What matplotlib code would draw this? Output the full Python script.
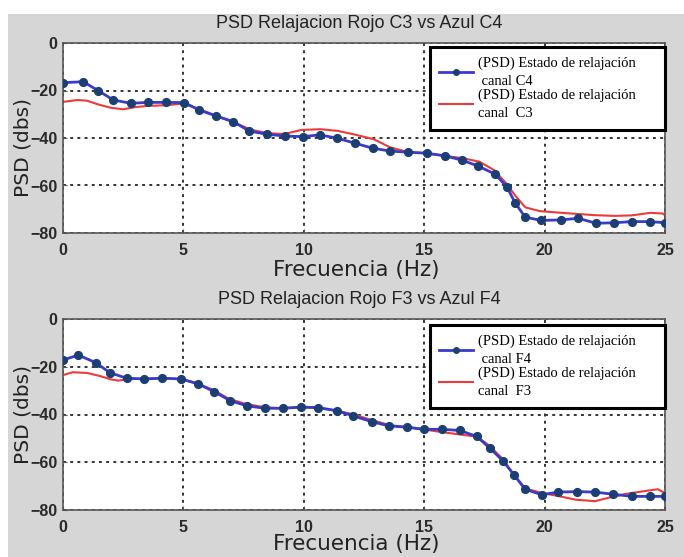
import matplotlib
matplotlib.use("Agg")
import matplotlib.pyplot as plt
from matplotlib.patches import Rectangle

# ---- data: power spectral density (dB) vs frequency (Hz) ----
freq_c4 = [0.0, 0.84, 1.47, 2.09, 2.82, 3.54, 4.28, 5.04, 5.65, 6.35, 7.07, 7.74,
           8.46, 9.22, 9.95, 10.67, 11.39, 12.13, 12.86, 13.58, 14.33, 15.10, 15.86,
           16.56, 17.24, 17.94, 18.43, 18.77, 19.19, 19.85, 20.67, 21.40, 22.13,
           22.88, 23.62, 24.38, 25.0]
psd_c4 = [-16.7, -16.3, -20.1, -24.0, -25.4, -25.0, -25.0, -25.1, -28.2, -30.7,
          -33.1, -37.1, -38.4, -39.2, -39.4, -38.7, -40.1, -42.2, -44.3, -45.5,
          -46.0, -46.4, -47.5, -49.3, -51.8, -55.2, -60.5, -67.2, -73.3, -74.7,
          -74.5, -73.8, -75.9, -75.7, -75.2, -75.2, -75.7]

freq_c3 = [0.0, 0.6, 1.0, 1.5, 2.0, 2.5, 3.0, 3.5, 4.3, 5.0, 5.7, 6.4, 7.1, 7.8,
           8.5, 9.2, 9.9, 10.7, 11.4, 12.1, 12.9, 13.6, 14.3, 15.1, 15.9, 16.6,
           17.3, 17.9, 18.4, 18.8, 19.2, 19.8, 20.7, 21.4, 22.1, 22.9, 23.6, 24.4,
           24.9, 25.0]
psd_c3 = [-24.8, -24.0, -24.3, -26.0, -27.3, -27.9, -27.0, -26.5, -26.2, -25.5,
          -28.0, -30.8, -33.5, -36.5, -38.0, -38.3, -36.6, -36.3, -37.0, -38.5,
          -40.5, -44.0, -45.8, -46.5, -47.6, -48.5, -50.0, -53.5, -59.0, -64.5,
          -69.2, -70.8, -71.5, -72.0, -72.5, -72.8, -72.6, -71.5, -71.8, -72.5]

freq_f4 = [0.0, 0.64, 1.36, 1.95, 2.64, 3.38, 4.12, 4.90, 5.62, 6.27, 6.94, 7.65,
           8.39, 9.12, 9.87, 10.60, 11.37, 12.06, 12.82, 13.55, 14.27, 14.99, 15.73,
           16.49, 17.18, 17.73, 18.26, 18.73, 19.19, 19.88, 20.57, 21.36, 22.09,
           22.85, 23.62, 24.38, 25.0]
psd_f4 = [-17.2, -15.1, -18.3, -22.5, -24.8, -25.1, -24.8, -25.1, -27.2, -30.4,
          -34.2, -36.4, -37.4, -37.4, -36.9, -37.1, -38.4, -40.6, -43.0, -44.8,
          -45.3, -46.2, -46.2, -46.7, -49.2, -54.1, -59.3, -65.3, -71.3, -73.6,
          -72.5, -72.3, -72.5, -73.4, -74.3, -74.3, -74.3]

freq_f3 = [0.0, 0.4, 1.0, 1.5, 2.0, 2.3, 2.7, 3.4, 4.1, 4.9, 5.6, 6.3, 6.9, 7.6,
           8.4, 9.1, 9.9, 10.6, 11.4, 12.1, 12.8, 13.6, 14.3, 15.0, 15.7, 16.5,
           17.2, 17.7, 18.3, 18.7, 19.2, 19.9, 20.6, 21.3, 22.1, 22.6, 23.3, 24.0,
           24.7, 25.0]
psd_f3 = [-23.5, -22.3, -22.6, -23.8, -25.3, -25.8, -25.2, -25.0, -24.9, -25.2,
          -27.0, -30.0, -33.5, -35.6, -37.0, -37.4, -37.0, -37.3, -38.5, -40.0,
          -42.3, -44.5, -45.3, -46.3, -47.3, -48.4, -49.3, -53.0, -59.0, -65.0,
          -71.0, -72.9, -74.2, -75.7, -76.3, -75.0, -73.4, -72.3, -71.3, -72.9]

x_ticks = [0, 5, 10, 15, 20, 25]
y_ticks = [0, -20, -40, -60, -80]

titles = ["PSD Relajacion Rojo C3 vs Azul C4", "PSD Relajacion Rojo F3 vs Azul F4"]
blue_labels = ["(PSD) Estado de relajación\n canal C4", "(PSD) Estado de relajación\n canal F4"]
red_labels = ["(PSD) Estado de relajación\ncanal  C3", "(PSD) Estado de relajación\ncanal  F3"]
x_label = "Frecuencia (Hz)"
y_label = "PSD (dbs)"

# ---- figure ----
W, H = 684, 557
fig = plt.figure(figsize=(W / 100, H / 100), dpi=100, facecolor="white")
fig.patches.append(Rectangle((8 / W, 0), 1 - 8 / W, 1 - 14 / H, transform=fig.transFigure,
                             facecolor="#d6d6d6", edgecolor="none", zorder=-10))

BLUE = "#3a3ad0"
MARK = "#1c3f73"
RED = "#ee3a3a"


def px_axes(left, top, right, bottom):
    return [left / W, 1 - bottom / H, (right - left) / W, (bottom - top) / H]


# axes rect, blue series, red series, xlabel y, ylabel y, legend top
panels = [
    (px_axes(63, 43, 665, 233), freq_c4, psd_c4, freq_c3, psd_c3, -0.195, 0.45, 0.979),
    (px_axes(63, 319, 665, 510), freq_f4, psd_f4, freq_f3, psd_f3, -0.178, 0.5, 0.969),
]

for i, (rect, fb, pb, fr, pr, xl_y, yl_y, leg_top) in enumerate(panels):
    ax = fig.add_axes(rect)
    ax.set_facecolor("white")
    lb, = ax.plot(fb, pb, color=BLUE, lw=2.0, marker="o", ms=5.6,
                  mfc=MARK, mec=MARK, zorder=3)
    lr, = ax.plot(fr, pr, color=RED, lw=1.5, zorder=2)
    ax.set_xlim(0, 25)
    ax.set_ylim(-80, 0)
    ax.set_xticks(x_ticks)
    ax.set_yticks(y_ticks)
    ax.grid(True, color="#333333", linestyle=(0, (1.5, 2.2)), linewidth=1.4)
    ax.set_axisbelow(True)
    for s in ax.spines.values():
        s.set_color("#555555")
        s.set_linewidth(1.2)
    ax.tick_params(direction="in", length=3, color="#555555", labelcolor="#2a2a2a",
                   labelsize=11.5)
    ax.tick_params(axis="x", pad=7)
    ax.tick_params(axis="y", pad=4)
    for lab in ax.get_xticklabels() + ax.get_yticklabels():
        lab.set_family("Liberation Sans")
        lab.set_fontweight("bold")

    ax.text(0.492, 1 + 19 / 190, titles[i], transform=ax.transAxes, ha="center",
            va="center", fontsize=13, family="Liberation Sans", color="#222222")
    ax.set_xlabel(x_label, fontsize=15.5, family="DejaVu Sans", color="#222222")
    ax.xaxis.set_label_coords(0.487, xl_y)
    ax.xaxis.label.set_va("center")
    ax.set_ylabel(y_label, fontsize=14.5, family="DejaVu Sans", color="#222222")
    ax.yaxis.set_label_coords(-0.066, yl_y)
    ax.yaxis.label.set_va("center")

    leg = ax.legend([lb, lr], [blue_labels[i], red_labels[i]], loc="upper left",
                    bbox_to_anchor=(367 / 602, 0.0, 235 / 602, leg_top), mode="expand",
                    borderaxespad=0, numpoints=1, handlelength=2.3,
                    handletextpad=0.35, borderpad=0.65, labelspacing=0.05,
                    fancybox=False, framealpha=1,
                    prop={"family": "Liberation Serif", "size": 10.5})
    leg.get_frame().set_edgecolor("black")
    leg.get_frame().set_linewidth(2.2)
    for t in leg.get_texts():
        t.set_linespacing(1.5)
    for h in leg.legend_handles:
        h.set_markersize(4)

fig.savefig("out.png", dpi=100, facecolor=fig.get_facecolor())
